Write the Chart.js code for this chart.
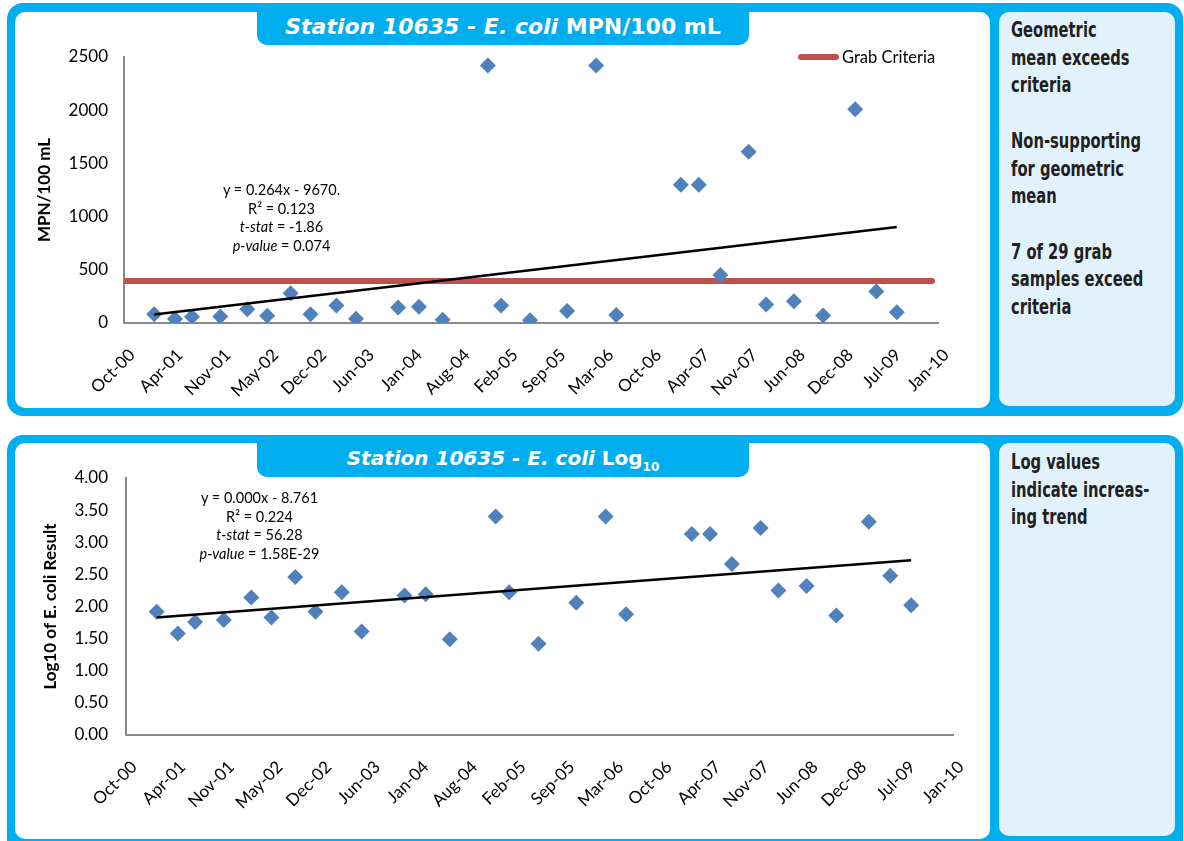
<!DOCTYPE html>
<html><head><meta charset="utf-8">
<script src="https://cdn.jsdelivr.net/npm/chart.js@4.4.1/dist/chart.umd.min.js"></script>
<style>
html,body{margin:0;padding:0;background:#fff;width:1184px;height:841px;overflow:hidden;position:relative;font-family:Lato,sans-serif;}
.abs{position:absolute;}
.outer{background:#00AEEF;border-radius:16px;}
.white{background:#fff;border-radius:10px;}
.side{background:#E1F2FC;border-radius:10px;}
.tab{background:#00AEEF;border-radius:0 0 10px 10px;color:#fff;font-family:"DejaVu Sans",sans-serif;font-weight:700;text-align:center;white-space:nowrap;}
.note{font-family:"DejaVu Sans Condensed","DejaVu Sans",sans-serif;font-stretch:condensed;font-weight:700;font-size:21px;line-height:27.7px;color:#231F20;white-space:nowrap;transform:scaleX(0.78);transform-origin:0 0;}
.eq{font-family:Lato,sans-serif;font-size:14.5px;line-height:18.6px;text-align:center;color:#000;white-space:nowrap;width:220px;}
.leg{font-family:Lato,sans-serif;font-size:16.5px;line-height:20px;color:#000;white-space:nowrap;}
canvas{position:absolute;}
</style></head>
<body>
<!-- top panel -->
<div class="abs outer" style="left:7px;top:3px;width:1176px;height:413px;"></div>
<div class="abs white" style="left:15px;top:12px;width:975px;height:396px;"></div>
<div class="abs side" style="left:999px;top:12px;width:176px;height:394px;"></div>
<div class="abs tab" style="left:257px;top:3px;width:492px;height:42px;line-height:47px;font-size:22px;"><i>Station 10635 - E. coli</i> MPN/100 mL</div>
<canvas id="c1" width="975" height="396" style="left:15px;top:12px;"></canvas>
<div class="abs eq" style="left:171.5px;top:181px;">y = 0.264x - 9670.<br>R² = 0.123<br><i>t-stat</i> = -1.86<br><i>p-value</i> = 0.074</div>
<div class="abs" style="left:798px;top:54px;width:41px;height:6px;border-radius:3px;background:#C0504D;"></div>
<div class="abs leg" style="left:842px;top:47px;">Grab Criteria</div>
<div class="abs note" style="left:1011px;top:17px;">Geometric<br>mean exceeds<br>criteria<br><br>Non-supporting<br>for geometric<br>mean<br><br>7 of 29 grab<br>samples exceed<br>criteria</div>

<!-- bottom panel -->
<div class="abs outer" style="left:7px;top:435px;width:1176px;height:420px;"></div>
<div class="abs white" style="left:15px;top:443px;width:975px;height:396px;"></div>
<div class="abs side" style="left:999px;top:443px;width:176px;height:393px;"></div>
<div class="abs tab" style="left:257px;top:435px;width:492px;height:42px;line-height:46px;font-size:20px;"><i>Station 10635 - E. coli</i> Log<span style="font-size:12px;position:relative;top:6px;">10</span></div>
<canvas id="c2" width="975" height="398" style="left:15px;top:443px;"></canvas>
<div class="abs eq" style="left:149.5px;top:489px;">y = 0.000x - 8.761<br>R² = 0.224<br><i>t-stat</i> = 56.28<br><i>p-value</i> = 1.58E-29</div>
<div class="abs note" style="left:1011px;top:449px;">Log values<br>indicate increas-<br>ing trend</div>

<script>
// ---- data ----
const sampleDates = ["2001-02-04","2001-05-02","2001-07-12","2001-11-07","2002-02-28","2002-05-22","2002-08-28","2002-11-19","2003-03-07","2003-05-28","2003-11-20","2004-02-15","2004-05-24","2004-11-29","2005-01-23","2005-05-24","2005-10-26","2006-02-24","2006-05-19","2007-02-13","2007-04-29","2007-07-28","2007-11-23","2008-02-04","2008-05-30","2008-09-29","2009-02-10","2009-05-09","2009-08-03"];
const ecoliMPN = [83,38,58,61,130,67,280,83,165,41,145,152,31,2420,165,26,112,2420,75,1300,1300,450,1610,175,205,71,2010,295,102];
const ecoliLog10 = [1.92,1.58,1.76,1.79,2.14,1.83,2.46,1.92,2.22,1.61,2.17,2.19,1.49,3.40,2.22,1.42,2.06,3.40,1.88,3.13,3.13,2.66,3.22,2.25,2.32,1.86,3.32,2.48,2.02];
const grabCriteria = 394;
const grabLineDates = ["2000-10-01","2009-12-28"];
const trendDates = ["2001-02-04","2009-08-03"];
const mpnTrendY = [80, 903];
const logTrendY = [1.83, 2.72];
const xTickLabels = ["Oct-00","Apr-01","Nov-01","May-02","Dec-02","Jun-03","Jan-04","Aug-04","Feb-05","Sep-05","Mar-06","Oct-06","Apr-07","Nov-07","Jun-08","Dec-08","Jul-09","Jan-10"];
const xAxisMin = 36800, xAxisMax = 40200, xStep = 200; // Excel date serials
const mpnTicks = [0,500,1000,1500,2000,2500];
const logTickLabels = ["0.00","0.50","1.00","1.50","2.00","2.50","3.00","3.50","4.00"];

// ---- helpers ----
function toSerial(s){const p=s.split('-').map(Number);return Math.round((Date.UTC(p[0],p[1]-1,p[2])-Date.UTC(1899,11,30))/864e5);}
const xs = sampleDates.map(toSerial);
const BLUE = '#4F81BD', AXIS = '#898989';
const tickFont = {family:'Lato', size:17};

function xScale(h){
  return {
    type:'linear', min:xAxisMin, max:xAxisMax,
    ticks:{stepSize:xStep, maxTicksLimit:100, autoSkip:false, maxRotation:45, minRotation:45, padding:22, labelOffset:8, color:'#000', font:tickFont,
      callback:(v)=>xTickLabels[Math.round((v-xAxisMin)/xStep)]},
    grid:{display:false, drawTicks:false},
    border:{display:true, color:AXIS, width:2},
    afterFit:s=>{s.height=h;}
  };
}

Chart.defaults.font.family = 'Lato';

new Chart(document.getElementById('c1'), {
  type:'scatter',
  data:{datasets:[
    {label:'Trend', data:trendDates.map((d,i)=>({x:toSerial(d), y:mpnTrendY[i]})), showLine:true, borderColor:'#000', borderWidth:2.5, pointRadius:0, order:0},
    {label:'E. coli', data:xs.map((x,i)=>({x, y:ecoliMPN[i]})), pointStyle:'rectRot', pointRadius:8, backgroundColor:BLUE, borderWidth:0, order:1},
    {label:'Grab Criteria', data:grabLineDates.map(d=>({x:toSerial(d), y:grabCriteria})), showLine:true, borderColor:'#C0504D', backgroundColor:'#C0504D', borderWidth:6, borderCapStyle:'round', pointRadius:0, order:2}
  ]},
  options:{
    responsive:false, animation:false, devicePixelRatio:1,
    layout:{padding:{left:0, right:52, top:45, bottom:0}},
    plugins:{legend:{display:false}, tooltip:{enabled:false}},
    scales:{
      x:xScale(85),
      y:{min:0, max:2500,
        ticks:{stepSize:500, padding:16, color:'#000', font:tickFont, callback:(v)=>mpnTicks.includes(v)?String(v):''},
        grid:{display:false, drawTicks:false},
        border:{display:true, color:AXIS, width:2},
        title:{display:true, text:'MPN/100 mL', color:'#000', font:{family:'Lato', size:17, weight:'bold'}, padding:{top:19, bottom:0}},
        afterFit:s=>{s.width=109;}
      }
    }
  }
});

new Chart(document.getElementById('c2'), {
  type:'scatter',
  data:{datasets:[
    {label:'Trend', data:trendDates.map((d,i)=>({x:toSerial(d), y:logTrendY[i]})), showLine:true, borderColor:'#000', borderWidth:2.5, pointRadius:0, order:0},
    {label:'Log10', data:xs.map((x,i)=>({x, y:ecoliLog10[i]})), pointStyle:'rectRot', pointRadius:8, backgroundColor:BLUE, borderWidth:0, order:1}
  ]},
  options:{
    responsive:false, animation:false, devicePixelRatio:1,
    layout:{padding:{left:0, right:37, top:35, bottom:0}},
    plugins:{legend:{display:false}, tooltip:{enabled:false}},
    scales:{
      x:xScale(106),
      y:{min:0, max:4,
        ticks:{stepSize:0.5, padding:18, color:'#000', font:tickFont, callback:(v)=>logTickLabels[Math.round(v/0.5)]},
        grid:{display:false, drawTicks:false},
        border:{display:true, color:AXIS, width:2},
        title:{display:true, text:'Log10 of E. coli Result', color:'#000', font:{family:'Lato', size:17, weight:'bold'}, padding:{top:25, bottom:0}},
        afterFit:s=>{s.width=111;}
      }
    }
  }
});
</script>
</body></html>
